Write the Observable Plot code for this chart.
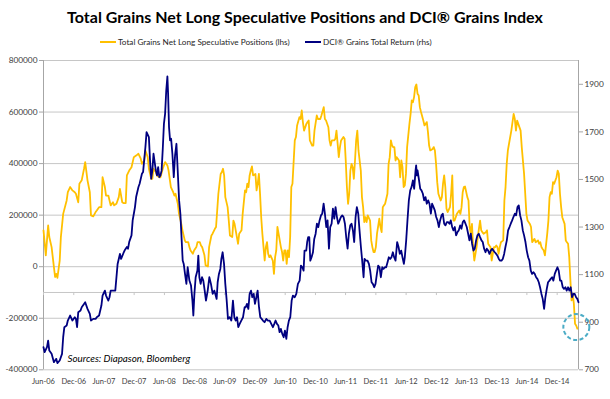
<!DOCTYPE html>
<html><head><meta charset="utf-8">
<script src="https://cdn.jsdelivr.net/npm/d3@7"></script>
<script src="https://cdn.jsdelivr.net/npm/@observablehq/plot@0.6"></script>
<style>
body{margin:0;background:#fff;width:610px;height:399px;overflow:hidden;font-family:Lato,"Open Sans",sans-serif;}
#header{position:relative;height:52px;}
#title{position:absolute;left:0;width:610px;top:7px;text-align:center;font-weight:bold;font-size:16px;line-height:20px;color:#000;white-space:nowrap;}
.leg{position:absolute;top:36px;height:12px;font-size:8.2px;line-height:12px;color:#262626;display:flex;align-items:center;white-space:nowrap;}
.sw{display:inline-block;width:16px;height:2px;margin-right:2px;}
#chart svg{display:block;overflow:visible;}
</style></head>
<body>
<div id="header">
<div id="title">Total Grains Net Long Speculative Positions and DCI® Grains Index</div>
<div class="leg" style="left:100px"><span class="sw" style="background:#FFC000"></span>Total Grains Net Long Speculative Positions (lhs)</div>
<div class="leg" style="left:305px"><span class="sw" style="background:#000080"></span>DCI® Grains Total Return (rhs)</div>
</div>
<div id="chart"></div>
<script>
// ---- data (weeks since 1 Jun 2006) ----
const netLongWeeks = [0,2,4,5,7,9,10,11,12,14,15,17,20,21,23,25,27,28,30,31,33,35,36,38,40,41,43,45,46,48,50,51,53,54,56,58,60,61,63,65,66,68,69,71,72,74,76,78,80,82,84,85,87,88,90,91,93,94,95,97,98,100,101,103,105,107,108,110,112,113,114,116,117,119,120,122,123,125,126,127,129,130,132,133,135,136,137,139,140,142,143,145,146,148,149,150,151,153,154,155,156,157,159,160,161,163,164,165,167,168,169,171,172,174,175,176,177,178,179,180,181,183,184,185,186,187,188,189,190,191,192,193,194,195,196,198,199,200,201,202,203,205,206,207,208,209,210,211,212,213,214,215,217,218,219,221,222,223,224,225,227,228,229,230,232,233,234,236,237,239,240,242,243,244,246,247,248,249,251,252,253,254,255,256,257,259,260,261,262,263,264,265,266,267,268,269,270,271,272,274,275,276,277,278,279,280,282,283,284,285,286,287,288,290,291,292,293,294,295,297,298,299,300,301,302,303,304,305,307,308,309,310,311,312,313,314,316,317,318,319,320,321,322,323,324,325,326,328,329,330,331,332,333,334,336,337,338,339,340,341,343,344,345,346,347,348,349,351,352,353,354,355,356,357,359,360,361,362,363,364,366,367,368,369,370,371,372,374,375,376,377,378,379,380,382,383,384,385,386,387,389,390,391,392,393,394,395,397,398,399,400,401,402,404,405,406,407,408,409,410,412,413,414,415,416,417,418,420,421,422,423,424,425,427,428,429,430,431,432,433,435,436,437,438,439,440,441,443,444,445,446,447,448,450,451,452,453,454,455,456,457,458,459,460,461];
const netLongValues = [141000,44000,160000,115000,76000,-2000,-40000,-28000,-43000,24000,115000,205000,257000,289000,309000,296000,289000,283000,250000,322000,335000,380000,406000,335000,289000,199000,195000,212000,218000,231000,231000,347000,309000,276000,276000,238000,250000,238000,244000,270000,302000,250000,247000,247000,354000,373000,386000,425000,431000,438000,419000,399000,412000,451000,425000,380000,341000,341000,380000,367000,354000,347000,347000,380000,406000,393000,373000,309000,289000,276000,283000,244000,205000,166000,141000,102000,95000,95000,76000,63000,50000,63000,76000,95000,95000,82000,76000,44000,5000,1000,76000,121000,128000,147000,154000,218000,283000,360000,367000,380000,354000,270000,231000,179000,121000,115000,179000,166000,115000,89000,128000,141000,205000,296000,289000,322000,309000,354000,373000,389000,354000,360000,296000,322000,360000,283000,192000,128000,76000,24000,76000,95000,50000,37000,44000,24000,-28000,37000,63000,154000,128000,76000,57000,24000,63000,63000,11000,63000,37000,115000,309000,322000,490000,503000,548000,580000,573000,606000,561000,528000,554000,561000,567000,490000,470000,470000,528000,587000,573000,573000,587000,619000,573000,567000,541000,490000,470000,490000,490000,496000,528000,477000,425000,464000,490000,503000,496000,412000,309000,244000,283000,373000,399000,386000,341000,412000,490000,528000,451000,373000,270000,231000,173000,192000,173000,199000,179000,102000,76000,57000,57000,76000,128000,186000,154000,134000,231000,238000,244000,283000,399000,425000,490000,470000,464000,464000,412000,425000,412000,347000,412000,386000,309000,315000,360000,464000,554000,593000,645000,638000,658000,697000,707000,671000,664000,619000,600000,567000,548000,554000,561000,522000,470000,451000,457000,464000,451000,399000,328000,283000,257000,270000,322000,354000,309000,225000,212000,231000,283000,354000,179000,179000,192000,205000,218000,205000,231000,289000,309000,311000,270000,257000,154000,128000,166000,76000,24000,76000,115000,147000,179000,141000,134000,128000,134000,141000,89000,82000,76000,24000,76000,76000,82000,76000,50000,76000,95000,102000,257000,309000,399000,451000,477000,528000,561000,593000,573000,528000,567000,554000,528000,464000,412000,360000,283000,205000,179000,166000,154000,95000,102000,108000,95000,102000,89000,95000,76000,69000,63000,44000,128000,179000,270000,289000,283000,328000,322000,347000,373000,360000,283000,231000,192000,166000,102000,95000,89000,37000,-53000,-131000,-105000,-144000,-221000,-228000,-240000];

const dciWeeks = [0,1,3,4,5,7,9,11,12,14,16,17,18,20,21,23,25,27,28,29,30,32,33,35,36,38,40,41,43,45,46,48,50,51,53,54,56,57,58,60,62,64,66,67,69,70,72,73,74,76,77,78,79,80,82,83,85,86,88,89,91,92,93,94,95,97,98,99,100,101,102,103,104,105,106,107,107.6,108.4,109.3,110.2,111.3,112.5,113.6,114.8,115.9,117.1,118.2,119.4,120.2,121.1,122.2,123.4,124.5,126,127.4,128.6,129.4,130.3,131.4,132.9,133.7,134.6,135.7,136.9,138,139.2,140.3,141.8,143.2,144.6,146.1,147.5,148.7,149.5,150.4,151.5,152.7,153.6,154.7,155.9,157,158.2,159.3,160.7,162.2,163.6,164.8,165.9,167.1,168.2,169.4,170.8,172.3,173.7,174.6,175.7,176.9,178,179.2,180.3,181.5,182.6,183.8,184.9,186.1,187.2,188.4,189.5,190.9,192.4,193.8,195.3,196.7,198.1,199.3,200.4,201.6,202.8,203.9,205,206.2,207.4,208.5,209.7,210.8,211.9,213.1,214.3,215.4,216.9,218.3,219.7,221.2,222.3,223.5,224.6,225.4,226.9,227.7,228.6,229.5,230.4,231.5,232.7,233.8,235,236.1,237.3,238.4,239.6,240.7,241.9,243,244.2,245.3,246.5,247.6,248.8,249.9,251.1,252.2,253.4,254.5,255.7,256.8,258,259.1,260.3,261.4,262.6,263.7,264.9,266,267.2,268.3,269.5,270.6,271.8,272.9,274.1,275.2,276.4,277.2,278.4,279.8,281,282.1,283.3,284.4,285.6,286.7,287.9,289,290.2,291.3,292.5,293.6,294.8,295.9,297.1,298.2,299.4,300.5,301.7,302.8,304,305.4,306.6,307.7,308.9,310,311.2,312,313.2,314.3,315.5,316.7,317.8,319,320.1,321.3,321.8,322.4,323,324.1,325.3,326.4,327.6,328.7,329.9,331,332.2,333.3,334.5,335.6,336.8,337.9,339.1,340.2,341.4,342.5,343.7,344.8,346,347.1,348.3,349.4,350.6,351.7,352.9,354,355.2,356.3,357.5,358.6,359.8,360.9,362.1,363.2,364.4,365.5,366.7,367.8,369,370.1,371.3,372.4,373.6,374.7,375.9,377,378.2,379.3,380.5,381.7,382.8,384,385.1,386.3,387.4,388.6,389.7,390.9,392,393.2,394.3,395.5,396.6,397.8,398.9,400.1,401.2,402.4,403.5,404.7,405.8,407,408.1,409.3,410.4,411.6,412.7,413.9,415,416.2,417.3,418.5,419.6,420.8,421.9,423.1,424.2,425.4,426.5,427.7,428.8,430,431.1,432.3,433.4,434.6,435.7,436.9,438,439.2,440.3,441.5,442.6,443.8,444.9,446.1,447.2,448.4,449.5,450.7,451.8,453,454.1,455.3,456.4,457.6,458.7,459.9,461,462];
const dciValues = [795,774,795,823,781,767,732,746,728,739,767,837,879,886,907,928,907,921,914,879,942,949,963,977,984,956,935,907,914,914,921,928,970,1012,1033,1012,991,1005,1033,1033,1033,1145,1187,1166,1190,1201,1216,1209,1237,1265,1328,1356,1384,1426,1468,1482,1524,1531,1636,1699,1678,1580,1503,1538,1608,1538,1517,1552,1510,1517,1538,1629,1734,1776,1874,1933,1860,1720,1664,1671,1608,1510,1601,1650,1538,1412,1356,1237,1159,1145,1103,1061,1131,1075,1054,991,928,1019,1089,1117,1180,1089,1061,1089,1075,1033,991,1033,1089,1061,1019,1033,1012,998,1068,1103,1124,1166,1194,1145,1061,991,914,921,907,991,921,907,921,879,893,907,921,963,963,977,956,1019,1033,1005,1019,977,1005,1033,963,921,914,907,900,914,907,907,893,879,893,907,893,886,858,872,851,837,865,830,879,907,921,991,1012,1005,1019,1061,1075,1138,1131,1117,1201,1201,1237,1258,1258,1159,1173,1194,1250,1272,1314,1300,1328,1349,1356,1398,1356,1300,1328,1209,1300,1314,1377,1335,1384,1342,1314,1328,1342,1349,1342,1314,1258,1209,1272,1307,1314,1286,1237,1342,1384,1356,1286,1216,1159,1089,1166,1159,1159,1145,1117,1068,1061,1047,1061,1103,1138,1131,1089,1131,1124,1131,1131,1152,1173,1166,1173,1194,1173,1159,1237,1216,1187,1201,1173,1145,1173,1244,1328,1412,1454,1468,1496,1461,1538,1559,1517,1538,1503,1461,1454,1440,1412,1426,1398,1412,1398,1356,1398,1384,1370,1342,1328,1300,1328,1349,1356,1314,1307,1321,1321,1314,1328,1300,1286,1300,1265,1279,1286,1307,1293,1321,1328,1314,1300,1272,1244,1272,1230,1201,1209,1244,1265,1272,1258,1244,1237,1209,1194,1209,1201,1187,1201,1209,1201,1194,1187,1180,1166,1159,1159,1166,1187,1216,1244,1286,1300,1314,1328,1342,1356,1349,1384,1391,1349,1328,1286,1265,1237,1201,1173,1159,1117,1103,1110,1103,1089,1082,1068,1047,1019,998,956,1005,1040,1068,1075,1082,1089,1075,1103,1117,1131,1117,1075,1075,1047,1040,1047,1033,1047,1033,1047,1005,1019,1019,1005,998,984];

const lhsDomain = [-400000, 800000];
const rhsDomain = [700, 2000];
const lhsTicks = [-400000,-200000,0,200000,400000,600000,800000];
const rhsTicks = [700,900,1100,1300,1500,1700,1900];
const tickLabels = ["Jun-06","Dec-06","Jun-07","Dec-07","Jun-08","Dec-08","Jun-09","Dec-09","Jun-10","Dec-10","Jun-11","Dec-11","Jun-12","Dec-12","Jun-13","Dec-13","Jun-14","Dec-14"];
const categoryAxisCrossing = -100000;
const lastWeek = 462;
const sourceNote = "Sources: Diapason, Bloomberg";

// ---- build ----
const start = Date.UTC(2006, 5, 1);
const weekDate = w => new Date(start + w * 7 * 864e5);
const rhsToLhs = v => (v - rhsDomain[0]) / (rhsDomain[1] - rhsDomain[0]) * (lhsDomain[1] - lhsDomain[0]) + lhsDomain[0];
const lhsToRhs = v => (v - lhsDomain[0]) / (lhsDomain[1] - lhsDomain[0]) * (rhsDomain[1] - rhsDomain[0]) + rhsDomain[0];
const netLong = netLongWeeks.map((w, i) => ({date: weekDate(w), value: netLongValues[i]}));
const dci = dciWeeks.map((w, i) => ({date: weekDate(w), value: dciValues[i], y: rhsToLhs(dciValues[i])}));
const parse = d3.utcParse("%b-%y");
const tickDates = tickLabels.map(parse);
const x0 = weekDate(0), x1 = weekDate(lastWeek);

const chart = Plot.plot({
  width: 610, height: 347,
  marginTop: 8, marginBottom: 29.7, marginLeft: 43, marginRight: 32,
  style: {fontFamily: "Lato, 'Open Sans', sans-serif", fontSize: "8.2px", color: "#404040", background: "#fff", overflow: "visible"},
  x: {type: "utc", domain: [x0, x1], label: null},
  y: {domain: lhsDomain, label: null},
  marks: [
    Plot.gridY(lhsTicks, {stroke: "#C6C6C6", strokeOpacity: 1}),
    Plot.ruleX([x0], {stroke: "#A6A6A6"}),
    Plot.ruleX([x1], {stroke: "#A6A6A6"}),
    Plot.ruleY([categoryAxisCrossing], {stroke: "#C6C6C6"}),
    Plot.ruleX(tickDates, {y1: categoryAxisCrossing, y2: categoryAxisCrossing - 12000, stroke: "#C6C6C6"}),
    Plot.axisY(lhsTicks, {anchor: "left", tickSize: 4, tickPadding: 2, tickFormat: d => String(d), stroke: "#A6A6A6", fill: "#404040", fontSize: 8.3, label: null}),
    Plot.axisY(rhsTicks.map(rhsToLhs), {anchor: "right", tickSize: 4, tickPadding: 2, tickFormat: d => String(Math.round(lhsToRhs(d))), stroke: "#A6A6A6", fill: "#404040", fontSize: 8.3, label: null}),
    Plot.axisX(tickDates, {anchor: "bottom", tickSize: 0, tickPadding: 9, tickFormat: d3.utcFormat("%b-%y"), fill: "#404040", fontSize: 7.5, label: null}),
    Plot.line(netLong, {x: "date", y: "value", stroke: "#FFC000", strokeWidth: 1.8}),
    Plot.line(dci, {x: "date", y: "y", stroke: "#000080", strokeWidth: 1.8}),
    Plot.dot([netLong[netLong.length - 1]], {x: "date", y: "value", r: 13, dx: -1, dy: -1.5, stroke: "#4BACC6", strokeWidth: 2, strokeDasharray: "4,2.5", fill: "none"}),
    Plot.text([sourceNote], {frameAnchor: "bottom-left", dx: 24, dy: -8, textAnchor: "start", fontStyle: "italic", fontSize: 9.8, fill: "#000"})
  ]
});
document.getElementById("chart").append(chart);
</script>
</body></html>
